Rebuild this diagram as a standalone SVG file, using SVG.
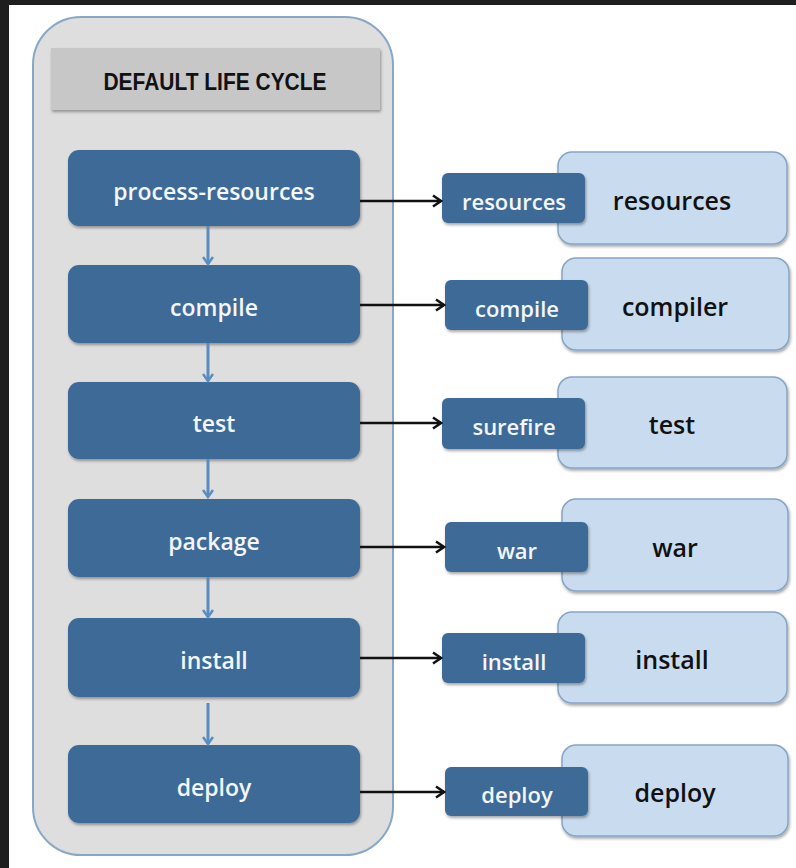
<svg xmlns="http://www.w3.org/2000/svg" width="796" height="868" viewBox="0 0 796 868">
<defs>
<style>
.phase{fill:#3e6b97;}
.ptxt{font-family:"Open Sans","Liberation Sans",sans-serif;font-weight:600;font-size:23px;fill:#f4f6f9;text-anchor:middle;}
.goal{fill:#3e6b97;}
.gtxt{font-family:"Open Sans","Liberation Sans",sans-serif;font-weight:600;font-size:22px;fill:#f4f6f9;text-anchor:middle;}
.plug{fill:#c9dcef;stroke:#86a5c5;stroke-width:1.5;}
.pltxt{font-family:"Open Sans","Liberation Sans",sans-serif;font-weight:600;font-size:25px;fill:#111;text-anchor:middle;}
.down{stroke:#5a8cc0;stroke-width:3;fill:none;}
.right{stroke:#111;stroke-width:2.5;fill:none;}
</style>
<filter id="sh" x="-10%" y="-10%" width="125%" height="130%">
<feGaussianBlur in="SourceAlpha" stdDeviation="1.5"/>
<feOffset dx="1" dy="2" result="b"/>
<feComponentTransfer><feFuncA type="linear" slope="0.35"/></feComponentTransfer>
<feMerge><feMergeNode/><feMergeNode in="SourceGraphic"/></feMerge>
</filter>
<marker id="ad" viewBox="0 0 12 12" refX="10" refY="6" markerWidth="12" markerHeight="12" markerUnits="userSpaceOnUse" orient="auto">
<path d="M3,1 L10,6 L3,11" fill="none" stroke="#5a8cc0" stroke-width="2.5"/>
</marker>
<marker id="ar" viewBox="0 0 14 14" refX="12" refY="7" markerWidth="14" markerHeight="14" markerUnits="userSpaceOnUse" orient="auto">
<path d="M4,1.5 L12,7 L4,12.5" fill="none" stroke="#111" stroke-width="2.5"/>
</marker>
</defs>
<rect x="0" y="0" width="796" height="868" fill="#ffffff"/>
<rect x="0" y="0" width="796" height="5" fill="#1e1e1e"/>
<rect x="0" y="0" width="9" height="868" fill="#1e1e1e"/>

<g id="lifecycle">
<rect x="33" y="17" width="360" height="838" rx="48" fill="#dedede" stroke="#88a7c7" stroke-width="2"/>
<rect x="51" y="48" width="329" height="62" fill="#c7c7c7" filter="url(#sh)"/>
<text x="215" y="90" font-family="'Liberation Sans',Arial,sans-serif" font-weight="700" font-size="24" fill="#111" text-anchor="middle" textLength="223" lengthAdjust="spacingAndGlyphs">DEFAULT LIFE CYCLE</text>
</g>

<g id="phase-process-resources"><rect class="phase" x="68" y="150" width="292" height="76" rx="11" filter="url(#sh)"/><text class="ptxt" x="214" y="200">process-resources</text></g>
<g id="phase-compile"><rect class="phase" x="68" y="265" width="292" height="78" rx="11" filter="url(#sh)"/><text class="ptxt" x="214" y="316">compile</text></g>
<g id="phase-test"><rect class="phase" x="68" y="382" width="292" height="77" rx="11" filter="url(#sh)"/><text class="ptxt" x="214" y="432">test</text></g>
<g id="phase-package"><rect class="phase" x="68" y="499" width="292" height="78" rx="11" filter="url(#sh)"/><text class="ptxt" x="214" y="550">package</text></g>
<g id="phase-install"><rect class="phase" x="68" y="618" width="292" height="79" rx="11" filter="url(#sh)"/><text class="ptxt" x="214" y="669">install</text></g>
<g id="phase-deploy"><rect class="phase" x="68" y="745" width="292" height="78" rx="11" filter="url(#sh)"/><text class="ptxt" x="214" y="796">deploy</text></g>

<g id="plugin-resources"><rect class="plug" x="558" y="152" width="229" height="92" rx="14" filter="url(#sh)"/><text class="pltxt" x="672" y="210">resources</text></g>
<g id="plugin-compiler"><rect class="plug" x="562" y="258" width="227" height="92" rx="14" filter="url(#sh)"/><text class="pltxt" x="675" y="316">compiler</text></g>
<g id="plugin-test"><rect class="plug" x="558" y="377" width="229" height="91" rx="14" filter="url(#sh)"/><text class="pltxt" x="672" y="434">test</text></g>
<g id="plugin-war"><rect class="plug" x="562" y="499" width="226" height="92" rx="14" filter="url(#sh)"/><text class="pltxt" x="675" y="557">war</text></g>
<g id="plugin-install"><rect class="plug" x="558" y="612" width="229" height="91" rx="14" filter="url(#sh)"/><text class="pltxt" x="672" y="669">install</text></g>
<g id="plugin-deploy"><rect class="plug" x="562" y="745" width="226" height="91" rx="14" filter="url(#sh)"/><text class="pltxt" x="675" y="802">deploy</text></g>

<g id="goal-resources"><rect class="goal" x="442" y="173" width="143" height="50" rx="6" filter="url(#sh)"/><text class="gtxt" x="514" y="210">resources</text></g>
<g id="goal-compile"><rect class="goal" x="445" y="280" width="143" height="50" rx="6" filter="url(#sh)"/><text class="gtxt" x="517" y="317">compile</text></g>
<g id="goal-surefire"><rect class="goal" x="442" y="398" width="143" height="51" rx="6" filter="url(#sh)"/><text class="gtxt" x="514" y="435">surefire</text></g>
<g id="goal-war"><rect class="goal" x="445" y="522" width="143" height="50" rx="6" filter="url(#sh)"/><text class="gtxt" x="517" y="559">war</text></g>
<g id="goal-install"><rect class="goal" x="442" y="633" width="143" height="50" rx="6" filter="url(#sh)"/><text class="gtxt" x="514" y="670">install</text></g>
<g id="goal-deploy"><rect class="goal" x="445" y="767" width="143" height="49" rx="6" filter="url(#sh)"/><text class="gtxt" x="517" y="803">deploy</text></g>

<g id="connectors">
<line class="down" x1="208" y1="226" x2="208" y2="264" marker-end="url(#ad)"/>
<line class="down" x1="208" y1="343" x2="208" y2="381" marker-end="url(#ad)"/>
<line class="down" x1="208" y1="459" x2="208" y2="497" marker-end="url(#ad)"/>
<line class="down" x1="208" y1="577" x2="208" y2="617" marker-end="url(#ad)"/>
<line class="down" x1="208" y1="703" x2="208" y2="744" marker-end="url(#ad)"/>
<line class="right" x1="360" y1="201" x2="441" y2="201" marker-end="url(#ar)"/>
<line class="right" x1="360" y1="305" x2="444" y2="305" marker-end="url(#ar)"/>
<line class="right" x1="360" y1="423" x2="441" y2="423" marker-end="url(#ar)"/>
<line class="right" x1="360" y1="547" x2="444" y2="547" marker-end="url(#ar)"/>
<line class="right" x1="360" y1="658" x2="441" y2="658" marker-end="url(#ar)"/>
<line class="right" x1="360" y1="792" x2="444" y2="792" marker-end="url(#ar)"/>
</g>
</svg>
